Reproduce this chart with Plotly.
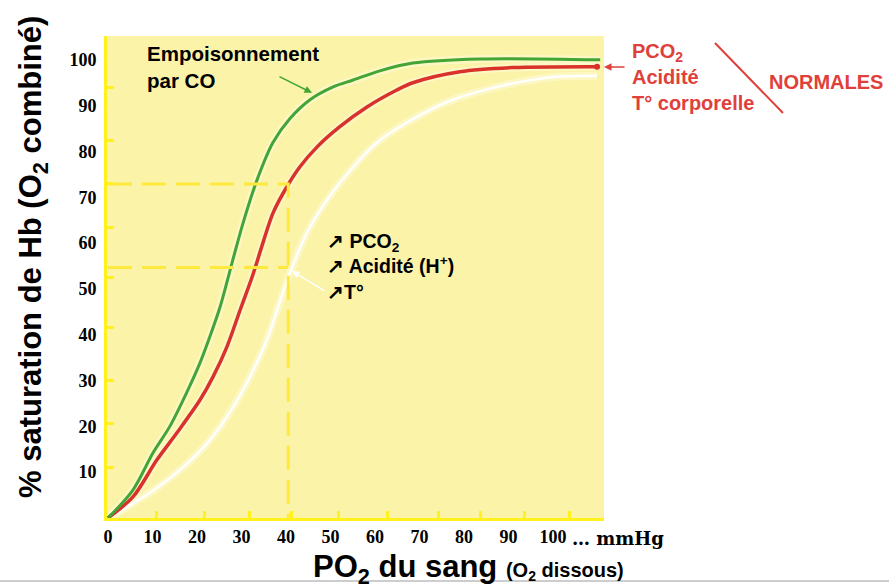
import plotly.graph_objects as go

# ---------------- data ----------------
green_x = [0, 5.6, 10.1, 13.9, 17.7, 20.7, 22.9, 25.2, 28.1, 30.3, 33.5, 37.1, 40.9, 45.4, 50.6, 55.1, 61.1, 68.5, 83.6, 110.6]
green_y = [0, 6.1, 14.2, 20.0, 27.4, 33.9, 39.6, 46.1, 56.5, 64.2, 73.8, 82.0, 87.2, 91.3, 94.1, 95.6, 97.6, 99.3, 100.2, 100.0]

red_x = [0, 5.6, 11.0, 15.5, 20.7, 23.6, 26.7, 29.7, 32.6, 34.8, 37.1, 40.2, 43.1, 47.0, 52.1, 58.2, 64.9, 68.5, 79.1, 91.0, 109.9]
red_y = [0, 4.6, 12.7, 18.6, 25.8, 30.8, 37.3, 45.4, 53.2, 60.0, 66.6, 72.3, 76.6, 81.0, 85.4, 89.7, 93.4, 95.0, 97.4, 98.3, 98.5]

white_x = [0, 9.4, 16.9, 22.9, 28.1, 31.9, 35.7, 38.0, 40.9, 44.7, 49.2, 55.1, 60.4, 65.6, 76.2, 87.4, 98.7, 109.9]
white_y = [0, 5.5, 11.1, 17.0, 24.2, 30.8, 38.9, 45.4, 53.5, 62.2, 69.4, 76.6, 81.9, 85.4, 90.8, 94.1, 96.1, 96.5]

x_ticks = [0, 10, 20, 30, 40, 50, 60, 70, 80, 90, 100]
y_ticks = [10, 20, 30, 40, 50, 60, 70, 80, 90, 100]
x_marks = [11.0, 21.8, 31.9, 41.3, 51.9, 62.9, 74.2, 83.8, 93.7, 103.8]
y_marks = [11.1, 20.7, 30.1, 41.5, 52.4, 63.5, 72.9, 82.5, 93.9]

guide_po2 = 40.5
guide_sat_normal = 72.9
guide_sat_shift = 54.7

# ---------------- styles ----------------
GREEN = "#43A535"
RED = "#D8322B"
RED_TXT = "#E0403A"
BG = "#FBF3A8"
BORDER = "#FFF01E"
DASH = "#FFE93C"
SANS = "Liberation Sans, Arial, sans-serif"
SERIF = "Liberation Serif, Times New Roman, serif"

fig = go.Figure()

# dashed guides
fig.add_trace(go.Scatter(x=[0, guide_po2, guide_po2], y=[guide_sat_normal, guide_sat_normal, 0],
                         mode="lines", line=dict(color=DASH, width=3, dash="24px,10px"),
                         hoverinfo="skip", showlegend=False, yaxis="y2"))
fig.add_trace(go.Scatter(x=[0, guide_po2], y=[guide_sat_shift, guide_sat_shift],
                         mode="lines", line=dict(color=DASH, width=3, dash="24px,10px"),
                         hoverinfo="skip", showlegend=False, yaxis="y2"))

# soft halo under curves
for xs, ys in [(white_x, white_y), (red_x, red_y), (green_x, green_y)]:
    fig.add_trace(go.Scatter(x=xs, y=ys, mode="lines",
                             line=dict(color="rgba(255,253,228,0.45)", width=8, shape="spline", smoothing=0.9),
                             hoverinfo="skip", showlegend=False))

fig.add_trace(go.Scatter(x=white_x, y=white_y, mode="lines",
                         line=dict(color="white", width=2.5, shape="spline", smoothing=0.9), showlegend=False))
fig.add_trace(go.Scatter(x=red_x, y=red_y, mode="lines",
                         line=dict(color=RED, width=3.5, shape="spline", smoothing=0.9), showlegend=False))
fig.add_trace(go.Scatter(x=green_x, y=green_y, mode="lines",
                         line=dict(color=GREEN, width=3, shape="spline", smoothing=0.9), showlegend=False))
fig.add_trace(go.Scatter(x=[red_x[-1]], y=[red_y[-1]], mode="markers",
                         marker=dict(color=RED, size=6), showlegend=False))

fig.update_layout(
    width=889, height=584,
    margin=dict(l=107, r=285, t=36, b=66),
    paper_bgcolor="white", plot_bgcolor=BG,
    xaxis=dict(range=[-0.22, 111.46], tickvals=x_ticks, ticktext=[str(v) for v in x_ticks],
               showgrid=False, zeroline=False, showline=True, linecolor=BORDER, linewidth=3,
               ticks="", ticklabelstandoff=0,
               tickfont=dict(family=SERIF, size=18, color="black", weight="bold")),
    yaxis=dict(range=[0, 105.2], tickvals=y_ticks, ticktext=[str(v) for v in y_ticks],
               showgrid=False, zeroline=False, showline=True, linecolor=BORDER, linewidth=3,
               ticks="", ticklabelstandoff=4,
               tickfont=dict(family=SERIF, size=18, color="black", weight="bold")),
    yaxis2=dict(range=[0, 105.2], overlaying="y", side="left", anchor="x", tickvals=y_marks,
                ticks="inside", ticklen=7, tickwidth=3, tickcolor=BORDER, showticklabels=False,
                showgrid=False, zeroline=False, showline=False),
    xaxis2=dict(range=[-0.22, 111.46], overlaying="x", side="bottom", anchor="y", tickvals=x_marks,
                ticks="inside", ticklen=7, tickwidth=3, tickcolor=BORDER, showticklabels=False,
                showgrid=False, zeroline=False, showline=False),
)
# trace to activate xaxis2
fig.add_trace(go.Scatter(x=[None], y=[None], xaxis="x2", yaxis="y2", showlegend=False, hoverinfo="skip"))

ann = []
# y title
ann.append(dict(text="<b>% saturation de Hb (O<sub>2</sub> combiné)</b>", xref="paper", yref="paper",
                x=(33 - 107) / 497, y=(518 - 257) / 482, textangle=-90, showarrow=False,
                xanchor="center", yanchor="middle", font=dict(family=SANS, size=31, color="black")))
# x title
ann.append(dict(text="<b>PO<sub>2</sub> du sang </b><b><span style='font-size:20px'>(O<sub>2</sub> dissous)</span></b>",
                xref="paper", yref="paper", x=(311 - 107) / 497, y=(518 - 547) / 482,
                xanchor="left", yanchor="top", showarrow=False,
                font=dict(family=SANS, size=31, color="black")))
# mmHg
ann.append(dict(text="<b>… mmHg</b>", xref="paper", yref="paper", x=(570 - 107) / 497, y=(518 - 538) / 482,
                xanchor="left", yanchor="middle", showarrow=False,
                font=dict(family="DejaVu Serif, serif", size=18, color="black")))
# CO label
ann.append(dict(text="<b>Empoisonnement<br>par CO</b>", xref="paper", yref="paper",
                x=(145 - 107) / 497, y=(518 - 40) / 482, xanchor="left", yanchor="top", align="left",
                showarrow=False, font=dict(family=SANS, size=20.5, color="black")))
ann.append(dict(text="", x=(312 - 108) / 4.45, y=(518 - 93) / 4.58, xref="x", yref="y",
                ax=-34, ay=-17, showarrow=True, arrowhead=2, arrowsize=1, arrowwidth=1.5, arrowcolor=GREEN))
# shift label
ann.append(dict(text="<b>↗ PCO<sub>2</sub><br>↗ Acidité (H<sup>+</sup>)<br>↗T°</b>", xref="paper", yref="paper",
                x=(325 - 107) / 497, y=(518 - 228) / 482, xanchor="left", yanchor="top", align="left",
                showarrow=False, font=dict(family=SANS, size=19.5, color="black")))
ann.append(dict(text="", x=(292 - 108) / 4.45, y=(518 - 271) / 4.58, xref="x", yref="y",
                ax=34, ay=21, showarrow=True, arrowhead=2, arrowsize=1, arrowwidth=1.5, arrowcolor="white"))
# normal label
ann.append(dict(text="<b>PCO<sub>2</sub><br>Acidité<br>T° corporelle</b>", xref="paper", yref="paper",
                x=(630 - 107) / 497, y=(518 - 38) / 482, xanchor="left", yanchor="top", align="left",
                showarrow=False, font=dict(family=SANS, size=20, color=RED_TXT)))
ann.append(dict(text="", xref="paper", yref="paper", x=(604 - 107) / 497, y=(518 - 67) / 482,
                ax=22, ay=0, showarrow=True, arrowhead=2, arrowsize=1, arrowwidth=1.5, arrowcolor=RED_TXT))
ann.append(dict(text="<b>NORMALES</b>", xref="paper", yref="paper",
                x=(767 - 107) / 497, y=(518 - 82) / 482, xanchor="left", yanchor="middle",
                showarrow=False, font=dict(family=SANS, size=20, color=RED_TXT)))
fig.update_layout(annotations=ann)

fig.add_shape(type="line", xref="paper", yref="paper",
              x0=(715 - 107) / 497, y0=(518 - 43) / 482, x1=(783 - 107) / 497, y1=(518 - 113) / 482,
              line=dict(color=RED_TXT, width=2))
fig.add_shape(type="line", xref="paper", yref="paper",
              x0=-107 / 497, y0=(518 - 581) / 482, x1=(889 - 107) / 497, y1=(518 - 581) / 482,
              line=dict(color="#BDBDBD", width=1.5))

fig.write_html("out.html", config={"displayModeBar": False},
               post_script="document.body.style.margin='0';document.body.style.padding='0';")
